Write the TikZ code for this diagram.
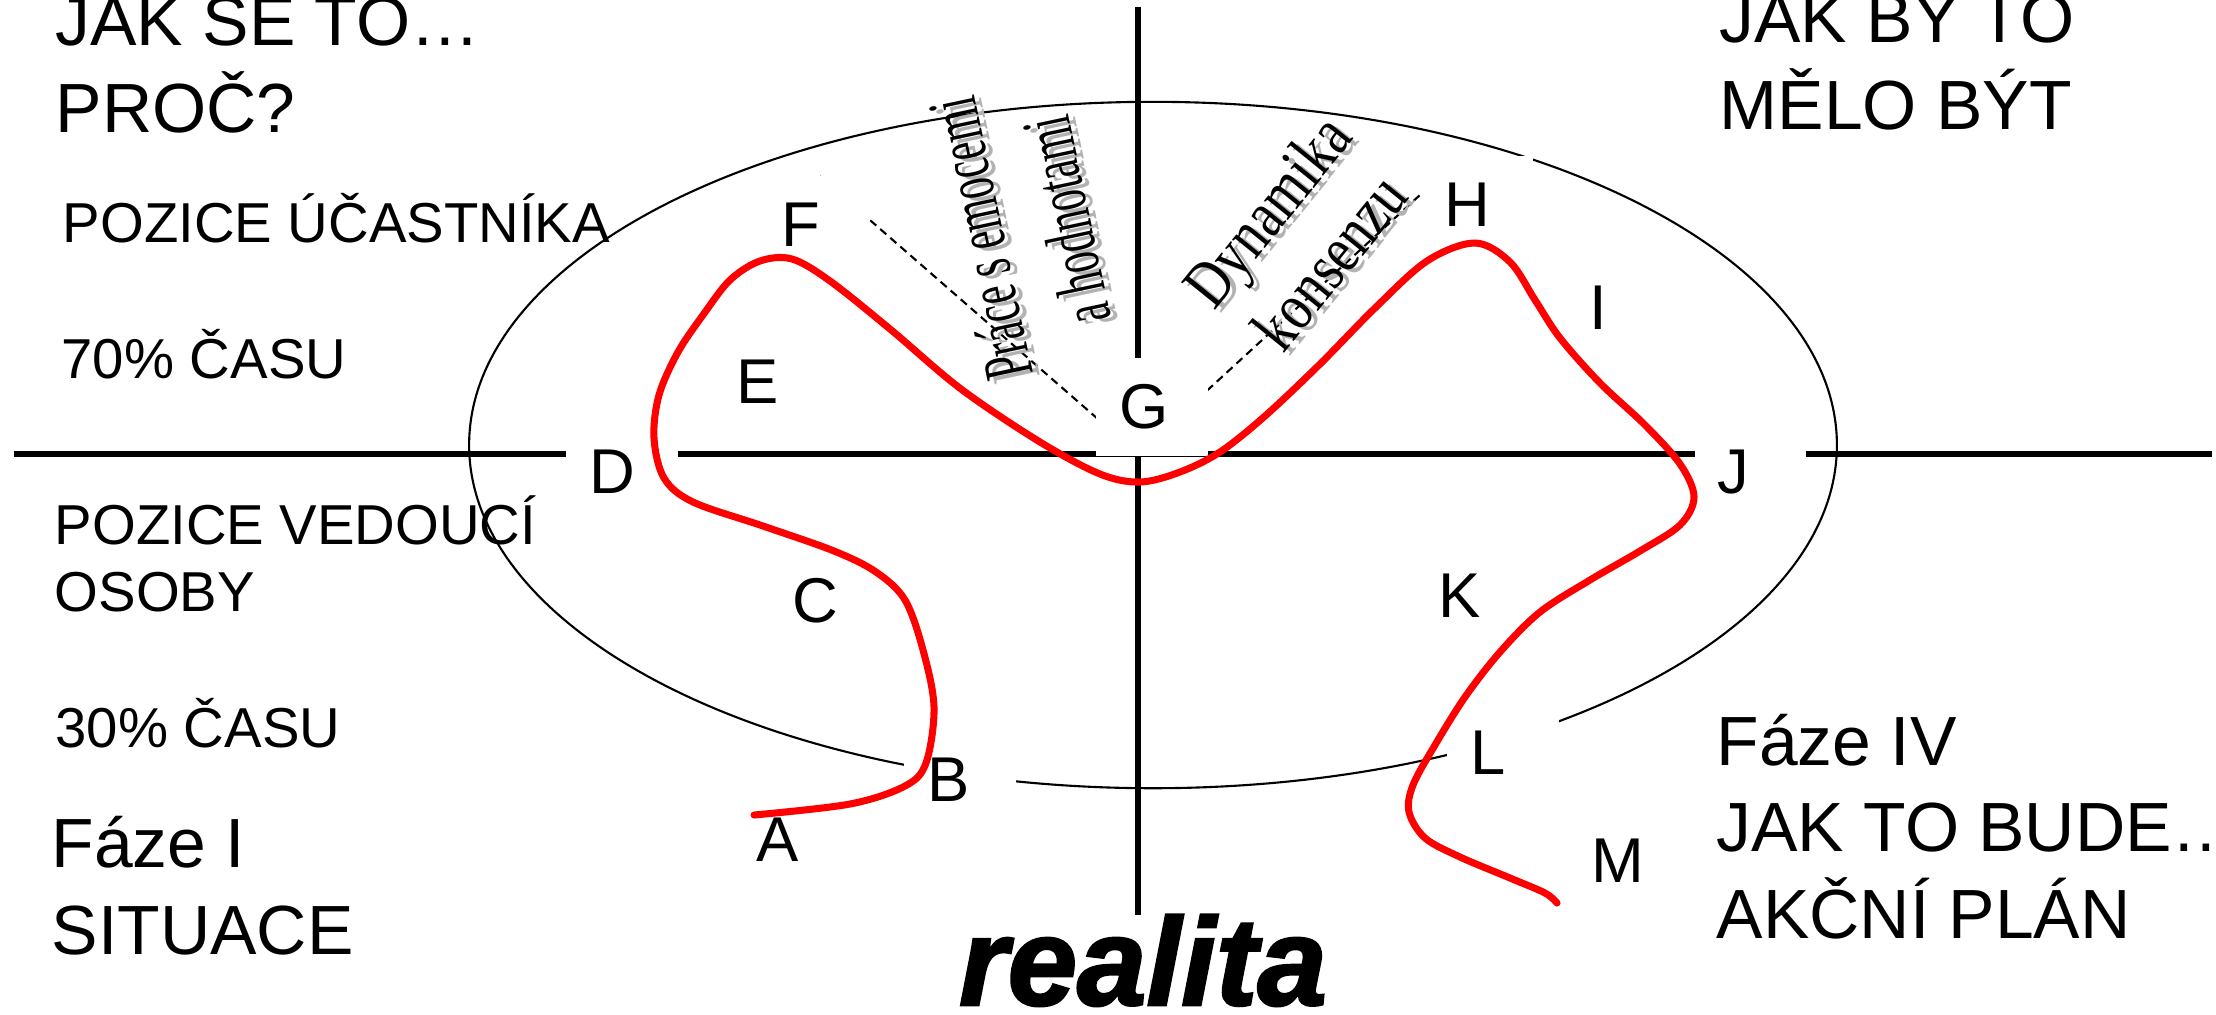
\documentclass[tikz,border=0pt]{standalone}
\usepackage{fontspec}
\setmainfont{Liberation Sans}
\newfontfamily\serifuzky[FakeStretch=0.6]{Liberation Serif}
\newfontfamily\serifpismo[FakeStretch=0.8]{Liberation Serif}
\newfontfamily\tucnepismo[BoldItalicFeatures={FakeBold=2}]{Liberation Sans}

\tikzset{
  osa/.style={line width=1.7pt},
  paprsek/.style={dash pattern=on 2.3pt off 1.5pt, line width=0.6pt},
  bod/.style={fill=white, text width=0.65cm, inner xsep=0.23cm, inner ysep=0pt,
    minimum height=0.98cm, align=left, font=\fontsize{18}{20}\selectfont},
  nadpis/.style={anchor=base west, align=left, inner sep=0pt, font=\fontsize{19.8}{24.5}\selectfont},
  popis/.style={anchor=base west, align=left, inner sep=0pt, font=\fontsize{16}{19}\selectfont},
  stin/.style={text=black!30},
}

\begin{document}
\begin{tikzpicture}[x=0.01cm,y=-0.01cm]
  % Skala: 1 jednotka = 1 px (2216 x 1014), osa y dolu
  \useasboundingbox (0,0) rectangle (2216,1014);
  % Stred a konce os
  \coordinate (O) at (1138,454);
  \coordinate (osaL) at (14,454);
  \coordinate (osaP) at (2212,454);
  \coordinate (osaH) at (1138,7);
  \coordinate (osaD) at (1138,915);
  % Elipsa
  \draw[line width=0.6pt] (1153,445) ellipse [x radius=6.835cm, y radius=3.43cm];
  % Osy
  \draw[osa] (osaL) -- (osaP);
  \draw[osa] (osaH) -- (osaD);
  % Carkovane paprsky z pocatku
  \coordinate (paprsekL) at (816,173);
  \coordinate (paprsekP) at (1421,194);
  \draw[paprsek] (O) -- (paprsekL);
  \draw[paprsek] (O) -- (paprsekP);
  % Texty v rozich (base = posledni radek)
  \node[nadpis] (otazka) at (55,132) {JAK SE TO…\\PROČ?};
  \node[nadpis] (idealni) at (1719,129) {JAK BY TO\\MĚLO BÝT};
  \node[popis] (ucastnik) at (62,242) {POZICE ÚČASTNÍKA};
  \node[popis] (cas70) at (61,378) {70\% ČASU};
  \node[popis] (vedouci) at (54,611) {POZICE VEDOUCÍ\\OSOBY};
  \node[popis] (cas30) at (55,747) {30\% ČASU};
  \node[nadpis] (faze1) at (51,954) {Fáze I\\SITUACE};
  \node[nadpis] (faze4) at (1716,938) {Fáze IV\\JAK TO BUDE…\\AKČNÍ PLÁN};
  % Sikme popisky se stinem
  \node[stin, rotate=102, align=center, font=\serifuzky\fontsize{20}{25}\selectfont]
    (emoceStin) at (1030,233) {Práce s emocemi\\a hodnotami};
  \node[rotate=102, align=center, font=\serifuzky\fontsize{20}{25}\selectfont]
    (emoce) at (1023,230) {Práce s emocemi\\a hodnotami};
  \node[stin, rotate=51, align=center, font=\serifpismo\fontsize{19}{23}\selectfont]
    (konsenzStin) at (1304,239) {Dynamika\\konsenzu};
  \node[rotate=51, align=center, font=\serifpismo\fontsize{19}{23}\selectfont]
    (konsenz) at (1298,236) {Dynamika\\konsenzu};
  % Body A--M
  \node[bod] (A) at (789,840) {A};
  \node[bod] (B) at (960,780) {B};
  \node[bod] (C) at (825,601) {C};
  \node[bod] (D) at (622,472) {D};
  \node[bod] (E) at (769,382) {E};
  \node[bod] (F) at (814,225) {F};
  \node[bod] (G) at (1152,407) {G};
  \node[bod] (H) at (1477,205) {H};
  \node[bod] (I) at (1622,308) {I};
  \node[bod] (J) at (1750,472) {J};
  \node[bod] (K) at (1471,596) {K};
  \node[bod] (L) at (1503,753) {L};
  \node[bod] (M) at (1624,861) {M};
  % Cervena cesta
  \draw[red, line width=2pt, line cap=round] plot[smooth, tension=0.55] coordinates {
    (754,815) (850,804) (905,786) (926,763) (934,707) (923,650) (905,600)
    (876,572) (834,551) (763,526) (693,502) (664,478) (654,438) (659,395)
    (678,352) (703,315) (730,280) (760,261) (792,259) (830,281) (890,329)
    (961,389) (1040,442) (1100,474) (1140,482) (1180,472) (1220,452)
    (1265,416) (1320,364) (1375,308) (1427,261) (1475,243) (1510,262)
    (1535,300) (1560,338) (1600,383) (1645,425) (1680,464) (1694,497)
    (1680,525) (1640,551) (1590,580) (1540,612) (1500,652) (1465,697)
    (1435,745) (1413,785) (1409,812) (1425,838) (1460,857) (1510,878)
    (1545,893) (1557,903)};
  % Realita
  \node[anchor=base, inner sep=0pt, font=\tucnepismo\bfseries\itshape\fontsize{35.5}{40}\selectfont]
    (realita) at (1143,1005) {realita};
\end{tikzpicture}
\end{document}
